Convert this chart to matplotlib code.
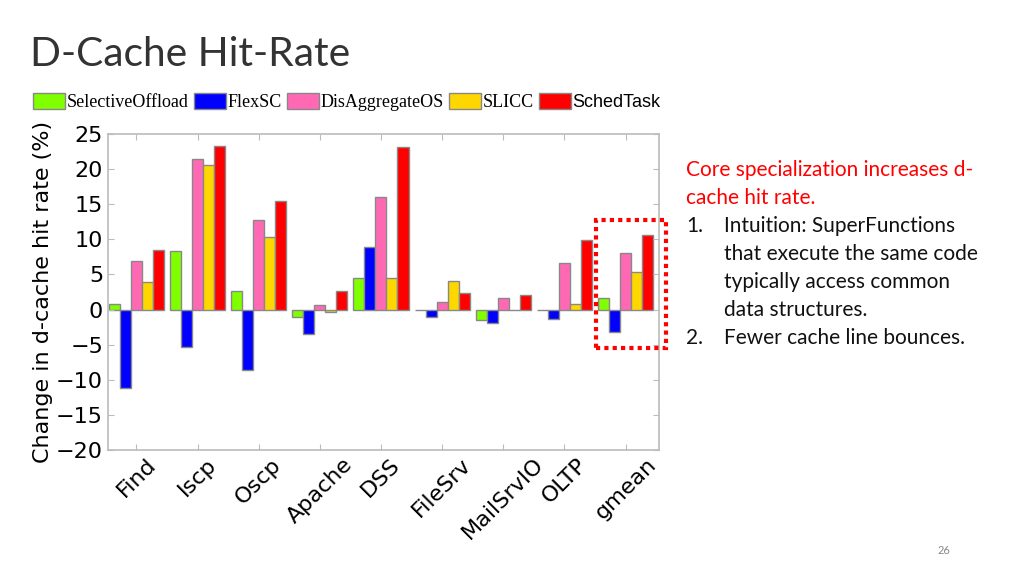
import matplotlib
matplotlib.use("Agg")
import matplotlib.pyplot as plt
import numpy as np
from matplotlib.patches import Rectangle
from matplotlib import font_manager

categories = ["Find", "Iscp", "Oscp", "Apache", "DSS", "FileSrv", "MailSrvIO", "OLTP", "gmean"]
series_names = ["SelectiveOffload", "FlexSC", "DisAggregateOS", "SLICC", "SchedTask"]
selective_offload = [0.8, 8.4, 2.6, -1.0, 4.5, 0.0, -1.5, 0.0, 1.7]
flexsc = [-11.1, -5.4, -8.6, -3.5, 8.9, -1.1, -1.9, -1.3, -3.2]
disaggregate_os = [6.9, 21.4, 12.8, 0.6, 16.0, 1.1, 1.6, 6.6, 8.1]
slicc = [3.9, 20.6, 10.3, -0.4, 4.5, 4.0, 0.0, 0.8, 5.3]
schedtask = [8.5, 23.3, 15.4, 2.6, 23.2, 2.3, 2.1, 9.9, 10.6]
series_values = [selective_offload, flexsc, disaggregate_os, slicc, schedtask]
colors = ["#80ff00", "#0000ff", "#ff69b4", "#ffd700", "#ff0000"]
yticks = [25, 20, 15, 10, 5, 0, -5, -10, -15, -20]

installed = {f.name for f in font_manager.fontManager.ttflist}
narrow_sans = "Liberation Sans Narrow" if "Liberation Sans Narrow" in installed else "Liberation Sans"

fig = plt.figure(figsize=(10.24, 5.76), dpi=100)
ax = fig.add_axes([108/1024, 1-450/576, 551/1024, 316/576])

x = np.arange(1, len(categories) + 1)
w = 0.18
for i, (name, vals) in enumerate(zip(series_names, series_values)):
    ax.bar(x + (i - 2) * w, vals, width=w, color=colors[i], edgecolor="#888888",
           linewidth=1.0, label=name)

ax.set_xlim(0.534, 9.548)
ax.set_ylim(-20, 25)
ax.set_yticks(yticks)
ax.set_xticks(x)
ax.set_xticklabels(categories, rotation=45, ha="center", va="top",
                   fontsize=16, family="DejaVu Sans")
ax.tick_params(axis="y", labelsize=16, direction="in", right=True, length=4, color="#bbbbbb")
ax.tick_params(axis="x", direction="in", top=True, length=4, color="#bbbbbb", pad=3)
for lbl in ax.get_yticklabels():
    lbl.set_family("DejaVu Sans")
for s in ax.spines.values():
    s.set_color("#bbbbbb")
    s.set_linewidth(1.2)
ax.set_ylabel("Change in d-cache hit rate (%)", fontsize=16, family="DejaVu Sans")
ax.yaxis.set_label_coords(-0.1, 0.5)

leg = fig.legend(loc="center left", bbox_to_anchor=(26/1024, 1-102/576), ncol=5,
                 frameon=False, prop={"family": "Liberation Serif", "size": 13},
                 handlelength=1.75, handleheight=0.95, handletextpad=0.1,
                 columnspacing=0.3, borderaxespad=0)
leg.get_texts()[4].set_family(narrow_sans)

fig.text(30/1024, 1-55/576, "D-Cache Hit-Rate", fontsize=29.3, family="Lato",
         color="#333333", va="center", ha="left")

fig.text(686/1024, 1-170/576, "Core specialization increases d-", fontsize=15,
         family="Lato", color="#ff0000", va="center")
fig.text(686/1024, 1-198/576, "cache hit rate.", fontsize=15,
         family="Lato", color="#ff0000", va="center")
lines = [("1.", "Intuition: SuperFunctions", 226), (None, "that execute the same code", 254),
         (None, "typically access common", 282), (None, "data structures.", 310),
         ("2.", "Fewer cache line bounces.", 338)]
for num, txt, yy in lines:
    if num:
        fig.text(686/1024, 1-yy/576, num, fontsize=15, family="Lato", color="#111111", va="center")
    fig.text(724/1024, 1-yy/576, txt, fontsize=15, family="Lato", color="#111111", va="center")

rect = Rectangle((596/1024, 1-348/576), 70/1024, 128/576, transform=fig.transFigure,
                 fill=False, edgecolor="#ff0000", linestyle=(0, (1, 1)), linewidth=3)
fig.patches.append(rect)

fig.text(938/1024, 1-550/576, "26", fontsize=8, family="Lato", color="#888888", va="center")

fig.savefig("out.png", dpi=100)
